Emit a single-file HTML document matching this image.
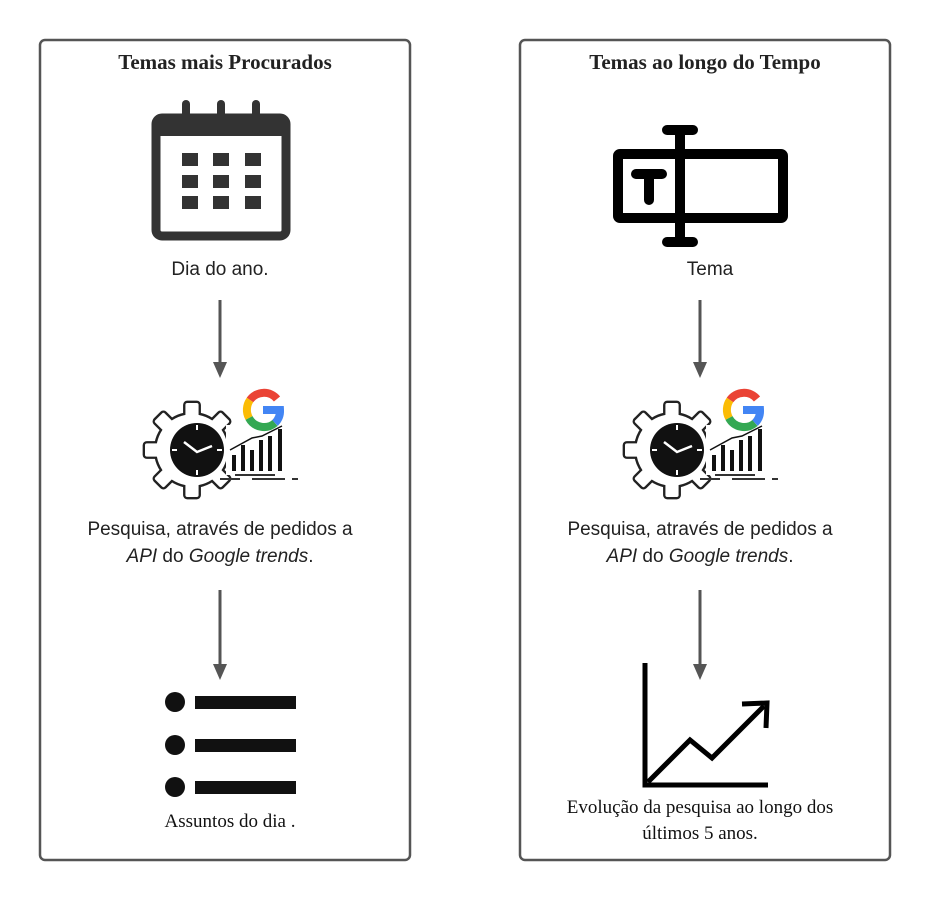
<!DOCTYPE html>
<html><head><meta charset="utf-8"><style>
body{margin:0;background:#fff;}
svg{display:block}
.t{font-family:"Liberation Serif",serif;font-weight:bold;font-size:21px;fill:#222;}
.s{font-family:"Liberation Sans",sans-serif;font-size:19px;fill:#222;}
.f{font-family:"Liberation Serif",serif;font-size:19px;fill:#111;}
</style></head><body>
<svg width="930" height="900" viewBox="0 0 930 900" xmlns="http://www.w3.org/2000/svg">
<defs>
<marker id="ah" markerWidth="16" markerHeight="16" refX="8" refY="8" orient="auto" markerUnits="userSpaceOnUse" viewBox="0 0 16 16"><path d="M0,1 L16,8 L0,15z" fill="#555"/></marker>
<g id="gshape" transform="translate(192 450) scale(0.94) translate(-188 -450)">
<circle cx="188" cy="450" r="38"/>
<rect x="181" y="400" width="14" height="20" rx="2"/>
<rect x="181" y="400" width="14" height="20" rx="2" transform="rotate(45 188 450)"/>
<rect x="181" y="400" width="14" height="20" rx="2" transform="rotate(90 188 450)"/>
<rect x="181" y="400" width="14" height="20" rx="2" transform="rotate(135 188 450)"/>
<rect x="181" y="400" width="14" height="20" rx="2" transform="rotate(180 188 450)"/>
<rect x="181" y="400" width="14" height="20" rx="2" transform="rotate(225 188 450)"/>
<rect x="181" y="400" width="14" height="20" rx="2" transform="rotate(270 188 450)"/>
<rect x="181" y="400" width="14" height="20" rx="2" transform="rotate(315 188 450)"/>
</g>
<g id="gear">
<use href="#gshape" fill="#222" stroke="#222" stroke-width="5"/>
<use href="#gshape" fill="#fff"/>
<circle cx="197" cy="450" r="27" fill="#111"/>
<path d="M184,442 L197,452 L212,446" stroke="#fff" stroke-width="2.5" fill="none"/>
<g stroke="#fff" stroke-width="2"><line x1="197" y1="425" x2="197" y2="430"/><line x1="197" y1="470" x2="197" y2="475"/><line x1="172" y1="450" x2="177" y2="450"/><line x1="217" y1="450" x2="222" y2="450"/></g>
<rect x="226" y="425" width="62" height="50" fill="#fff"/>
<g fill="#111"><rect x="232" y="455" width="4" height="16"/><rect x="241" y="445" width="4" height="26"/><rect x="250" y="450" width="4" height="21"/><rect x="259" y="440" width="4" height="31"/><rect x="268" y="436" width="4" height="35"/><rect x="278" y="429" width="4" height="42"/></g>
<path d="M230,450 L252,438 L262,436 L282,426" stroke="#111" stroke-width="1.5" fill="none"/>
<g stroke="#333" stroke-width="2"><line x1="220" y1="479" x2="240" y2="479"/><line x1="252" y1="479" x2="285" y2="479"/><line x1="292" y1="479" x2="298" y2="479"/><line x1="235" y1="475" x2="275" y2="475"/></g>
<g fill="none" stroke-width="8">
<path d="M277,399 A17,17 0 0 0 250,400" stroke="#EA4335"/>
<path d="M250,400 A17,17 0 0 0 249,418" stroke="#FBBC05"/>
<path d="M249,418 A17,17 0 0 0 275,423" stroke="#34A853"/>
<path d="M275,423 A17,17 0 0 0 280,410 L263,410" stroke="#4285F4"/>
</g>
</g>
</defs>
<rect x="40" y="40" width="370" height="820" rx="5" fill="#fff" stroke="#555" stroke-width="2.5"/>
<rect x="520" y="40" width="370" height="820" rx="5" fill="#fff" stroke="#555" stroke-width="2.5"/>
<text class="t" x="225" y="69" text-anchor="middle">Temas mais Procurados</text>
<text class="t" x="705" y="69" text-anchor="middle">Temas ao longo do Tempo</text>
<rect x="156" y="118" width="130" height="118" rx="6" fill="none" stroke="#333" stroke-width="9"/>
<rect x="156" y="118" width="130" height="18" fill="#333"/>
<g stroke="#333" stroke-width="8" stroke-linecap="round"><line x1="186" y1="104" x2="186" y2="130"/><line x1="221" y1="104" x2="221" y2="130"/><line x1="256" y1="104" x2="256" y2="130"/></g>
<g fill="#333">
<rect x="182" y="153" width="16" height="13"/><rect x="213" y="153" width="16" height="13"/><rect x="245" y="153" width="16" height="13"/>
<rect x="182" y="175" width="16" height="13"/><rect x="213" y="175" width="16" height="13"/><rect x="245" y="175" width="16" height="13"/>
<rect x="182" y="196" width="16" height="13"/><rect x="213" y="196" width="16" height="13"/><rect x="245" y="196" width="16" height="13"/>
</g>
<text class="s" x="220" y="275" text-anchor="middle">Dia do ano.</text>
<line x1="220" y1="300" x2="220" y2="370" stroke="#555" stroke-width="3" marker-end="url(#ah)"/>
<line x1="220" y1="590" x2="220" y2="672" stroke="#555" stroke-width="3" marker-end="url(#ah)"/>
<use href="#gear"/>
<text class="s" x="220" y="535" text-anchor="middle">Pesquisa, através de pedidos a</text>
<text class="s" x="220" y="562" text-anchor="middle"><tspan font-style="italic">API</tspan> do <tspan font-style="italic">Google trends</tspan>.</text>
<g fill="#111"><circle cx="175" cy="702" r="10"/><circle cx="175" cy="745" r="10"/><circle cx="175" cy="787" r="10"/>
<rect x="195" y="696" width="101" height="13"/><rect x="195" y="739" width="101" height="13"/><rect x="195" y="781" width="101" height="13"/></g>
<text class="f" x="230" y="827" text-anchor="middle">Assuntos do dia .</text>
<g fill="none" stroke="#000" stroke-width="10" stroke-linecap="round" stroke-linejoin="round">
<rect x="618" y="154" width="165" height="64" rx="2"/>
<line x1="680" y1="130" x2="680" y2="242"/>
<line x1="667" y1="130" x2="693" y2="130"/>
<line x1="667" y1="242" x2="693" y2="242"/>
<line x1="636" y1="174" x2="662" y2="174"/>
<line x1="649" y1="174" x2="649" y2="200"/>
</g>
<text class="s" x="710" y="275" text-anchor="middle">Tema</text>
<line x1="700" y1="300" x2="700" y2="370" stroke="#555" stroke-width="3" marker-end="url(#ah)"/>
<line x1="700" y1="590" x2="700" y2="672" stroke="#555" stroke-width="3" marker-end="url(#ah)"/>
<use href="#gear" transform="translate(480,0)"/>
<text class="s" x="700" y="535" text-anchor="middle">Pesquisa, através de pedidos a</text>
<text class="s" x="700" y="562" text-anchor="middle"><tspan font-style="italic">API</tspan> do <tspan font-style="italic">Google trends</tspan>.</text>
<g stroke="#000" stroke-width="5" fill="none">
<polyline points="645,663 645,785 768,785"/>
<polyline points="648,782 690,740 712,758 764,706"/>
<polyline points="742,704 767,703 766,728" stroke-linejoin="miter"/>
</g>
<text class="f" x="700" y="813" text-anchor="middle">Evolução da pesquisa ao longo dos</text>
<text class="f" x="700" y="839" text-anchor="middle">últimos 5 anos.</text>
</svg>
</body></html>
